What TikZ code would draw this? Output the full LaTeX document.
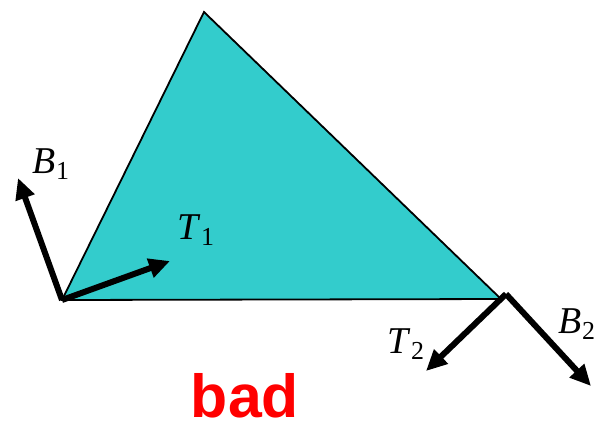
\documentclass[tikz,border=0pt]{standalone}
\usepackage{fontspec}
\setmainfont{Liberation Serif}
\newfontfamily\badfont{Liberation Sans}
\usetikzlibrary{arrows.meta}
\definecolor{TriFill}{HTML}{33CCCC}
\definecolor{BadRed}{HTML}{FF0000}
\tikzset{
  face/.style={draw=black,line width=1.8bp,fill=TriFill,line join=miter},
  frame/.style={-{Triangle[length=21bp,width=19bp]},black,line width=6bp},
  veclabel/.style={text=black,font=\fontsize{38}{40}\selectfont,inner sep=0pt},
  verdict/.style={text=BadRed,font=\badfont\bfseries\fontsize{61}{64}\selectfont,inner sep=0pt},
}
\newcommand{\vecname}[2]{\textit{#1}\raisebox{-0.35ex}{\fontsize{26}{28}\selectfont #2}}

\begin{document}
\begin{tikzpicture}[x=1bp,y=-1bp]
    \useasboundingbox (0,0) rectangle (597,432);
    % triangle
    \coordinate (v1) at (62,300);
    \coordinate (v2) at (204,12);
    \coordinate (v3) at (501,299);
    \filldraw[face] (v1) -- (v2) -- (v3) -- cycle;

    % tangent frames
    \coordinate (o2) at (506,294);
    \coordinate (b1) at (18,178);
    \coordinate (t1) at (170,261);
    \coordinate (t2) at (426,371);
    \coordinate (b2) at (591,386);
    \draw[frame] (v1) -- (b1);
    \draw[frame] (v1) -- (t1);
    \draw[frame] (o2) -- (t2);
    \draw[frame] (o2) -- (b2);

    \node[veclabel] (lb1) at (51,164) {\vecname{B}{1}};
    \node[veclabel] (lt1) at (196,230) {\vecname{T}{1}};
    \node[veclabel] (lt2) at (406,344) {\vecname{T}{2}};
    \node[veclabel] (lb2) at (577,324) {\vecname{B}{2}};

    \node[verdict] (bad) at (245,396) {bad};
  \end{tikzpicture}
\end{document}
